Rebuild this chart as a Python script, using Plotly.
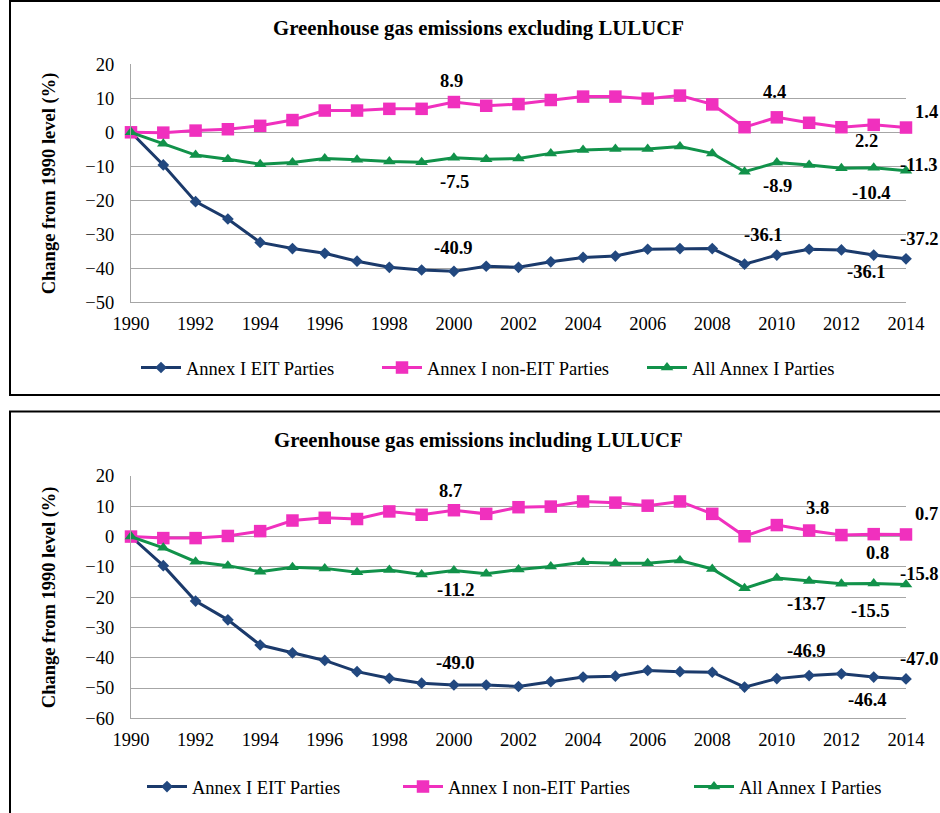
import plotly.graph_objects as go

years = list(range(1990, 2015))
series_names = ["Annex I EIT Parties", "Annex I non-EIT Parties", "All Annex I Parties"]

# Panel 1: excluding LULUCF
excl_eit = [0, -9.6, -20.4, -25.5, -32.4, -34.2, -35.6, -37.9, -39.7, -40.5, -40.9, -39.4, -39.7,
            -38.1, -36.8, -36.4, -34.4, -34.2, -34.2, -38.8, -36.1, -34.4, -34.6, -36.1, -37.2]
excl_non = [0, -0.1, 0.5, 0.9, 1.9, 3.6, 6.4, 6.4, 6.9, 6.9, 8.9, 7.8, 8.3,
            9.5, 10.5, 10.5, 9.9, 10.8, 8.2, 1.5, 4.4, 2.8, 1.5, 2.2, 1.4]
excl_all = [0, -3.4, -6.7, -7.9, -9.4, -8.9, -7.7, -8.1, -8.6, -8.8, -7.5, -7.9, -7.7,
            -6.2, -5.2, -4.9, -4.9, -4.2, -6.2, -11.6, -8.9, -9.6, -10.6, -10.4, -11.3]

# Panel 2: including LULUCF
incl_eit = [0, -9.6, -21.3, -27.5, -35.8, -38.4, -40.9, -44.6, -46.8, -48.4, -49.0, -49.0, -49.5,
            -47.9, -46.4, -46.1, -44.2, -44.6, -44.8, -49.7, -46.9, -45.9, -45.3, -46.4, -47.0]
incl_non = [0, -0.5, -0.5, 0.2, 1.8, 5.3, 6.2, 5.8, 8.3, 7.2, 8.7, 7.5, 9.7,
            9.9, 11.6, 11.2, 10.2, 11.6, 7.5, 0.1, 3.8, 2.0, 0.5, 0.8, 0.7]
incl_all = [0, -3.7, -8.3, -9.6, -11.6, -10.1, -10.5, -11.8, -11.0, -12.5, -11.2, -12.3, -10.9,
            -9.9, -8.5, -8.8, -8.8, -7.9, -10.7, -17.1, -13.7, -14.7, -15.6, -15.5, -15.8]

titles = ["Greenhouse gas emissions excluding LULUCF", "Greenhouse gas emissions including LULUCF"]
y_title = "Change from 1990 level (%)"
x_ticks = list(range(1990, 2015, 2))
excl_yticks = [20, 10, 0, -10, -20, -30, -40, -50]
incl_yticks = [20, 10, 0, -10, -20, -30, -40, -50, -60]

# data labels: (year, series index, text)
excl_labels = [(2000, 1, "8.9"), (2000, 2, "-7.5"), (2000, 0, "-40.9"),
               (2010, 1, "4.4"), (2010, 2, "-8.9"), (2010, 0, "-36.1"),
               (2013, 1, "2.2"), (2013, 2, "-10.4"), (2013, 0, "-36.1"),
               (2014, 1, "1.4"), (2014, 2, "-11.3"), (2014, 0, "-37.2")]
incl_labels = [(2000, 1, "8.7"), (2000, 2, "-11.2"), (2000, 0, "-49.0"),
               (2010, 1, "3.8"), (2010, 2, "-13.7"), (2010, 0, "-46.9"),
               (2013, 1, "0.8"), (2013, 2, "-15.5"), (2013, 0, "-46.4"),
               (2014, 1, "0.7"), (2014, 2, "-15.8"), (2014, 0, "-47.0")]

# ---- styling ----
FONT = "Liberation Serif"
W, H = 940, 813
colors = ["#1B3A6B", "#F030BE", "#11924A"]
marker_colors = ["#22487F", "#F030BE", "#11924A"]
symbols = ["diamond", "square", "triangle-up"]
msizes = [9, 12.5, 11]
GRID = "#A6A6A6"

excl_offsets = [(-2, 21), (1, -24), (0, 23), (-2, 25), (1, -23), (-13, 20),
                (-7, -16), (-2, -25), (-7, -17), (20, 16), (13, 6), (13, 20)]
incl_offsets = [(-3, 19), (2, -19), (2, 22), (41, 17), (30, -26), (30, 28),
                (4, -19), (-3, -27), (-6, -23), (20, 20), (13, 10), (13, 20)]

def px_x(p):
    return p / W

def px_y(p):
    return 1 - p / H

fig = go.Figure()

panels = [
    dict(data=[excl_eit, excl_non, excl_all], labels=excl_labels, offsets=excl_offsets,
         yrange=[-50, 20], yticks=excl_yticks, top=64.3, bottom=302.3, title_y=28,
         legend_y=368, legend_x=[136, 377, 642], xa="x", ya="y"),
    dict(data=[incl_eit, incl_non, incl_all], labels=incl_labels, offsets=incl_offsets,
         yrange=[-60, 20], yticks=incl_yticks, top=476, bottom=718.3, title_y=440,
         legend_y=787, legend_x=[142, 398, 689], xa="x2", ya="y2"),
]

annotations = []
legend_layouts = {}
leg_idx = 0
for pi, p in enumerate(panels):
    for si in range(3):
        leg_idx += 1
        lname = "legend" if leg_idx == 1 else f"legend{leg_idx}"
        fig.add_trace(go.Scatter(
            x=years, y=p["data"][si], name=series_names[si], mode="lines+markers",
            line=dict(color=colors[si], width=3),
            marker=dict(symbol=symbols[si], size=msizes[si], color=marker_colors[si]),
            cliponaxis=False, xaxis=p["xa"], yaxis=p["ya"], legend=lname,
        ))
        legend_layouts[lname] = dict(
            x=px_x(p["legend_x"][si]), y=px_y(p["legend_y"]), xanchor="left", yanchor="middle",
            orientation="h", font=dict(family=FONT, size=18.5, color="black"),
            bgcolor="rgba(0,0,0,0)", itemwidth=40, borderwidth=0, tracegroupgap=0,
        )
    for (yr, si, txt), (dx, dy) in zip(p["labels"], p["offsets"]):
        annotations.append(dict(
            x=yr, y=p["data"][si][years.index(yr)], xref=p["xa"], yref=p["ya"], text=txt,
            showarrow=False, xshift=dx, yshift=dy,
            font=dict(family=FONT, size=18.5, color="black", weight="bold"),
        ))
    annotations.append(dict(
        x=px_x(478), y=px_y(p["title_y"]), xref="paper", yref="paper", text=titles[pi],
        showarrow=False, xanchor="center", yanchor="middle",
        font=dict(family=FONT, size=20.8, color="black", weight="bold"),
    ))
    annotations.append(dict(
        x=px_x(49), y=px_y((p["top"] + p["bottom"]) / 2), xref="paper", yref="paper",
        text=y_title, textangle=-90, showarrow=False, xanchor="center", yanchor="middle",
        font=dict(family=FONT, size=18.5, color="black", weight="bold"),
    ))

axis_common = dict(showline=True, linecolor=GRID, linewidth=1, zeroline=False,
                   tickfont=dict(family=FONT, size=18.5, color="black"), ticks="",
                   automargin=False)

xdom = [px_x(131), px_x(906)]
layout = dict(
    width=W, height=H, margin=dict(l=0, r=0, t=0, b=0, pad=0, autoexpand=False),
    paper_bgcolor="white", plot_bgcolor="white",
    annotations=annotations,
    shapes=[
        dict(type="rect", xref="paper", yref="paper", x0=px_x(10), x1=1.02,
             y0=px_y(395), y1=px_y(1), line=dict(color="black", width=2)),
        dict(type="rect", xref="paper", yref="paper", x0=px_x(10), x1=1.02,
             y0=-0.02, y1=px_y(411.5), line=dict(color="black", width=2)),
    ],
    xaxis=dict(domain=xdom, range=[1990, 2014], tickvals=x_ticks, showgrid=False,
               anchor="y", ticklabelstandoff=4, **axis_common),
    yaxis=dict(domain=[px_y(302.3), px_y(64.3)], range=[-50, 20], tickvals=excl_yticks,
               showgrid=True, gridcolor=GRID, gridwidth=1, anchor="x",
               ticklabelstandoff=12, **axis_common),
    xaxis2=dict(domain=xdom, range=[1990, 2014], tickvals=x_ticks, showgrid=False,
                anchor="y2", ticklabelstandoff=4, **axis_common),
    yaxis2=dict(domain=[px_y(718.3), px_y(476)], range=[-60, 20], tickvals=incl_yticks,
                showgrid=True, gridcolor=GRID, gridwidth=1, anchor="x2",
                ticklabelstandoff=12, **axis_common),
    showlegend=True,
)
layout.update(legend_layouts)
fig.update_layout(**layout)

fig.write_html("out.html", config={"displayModeBar": False},
               post_script="document.body.style.margin='0px';document.body.style.overflow='hidden';")
